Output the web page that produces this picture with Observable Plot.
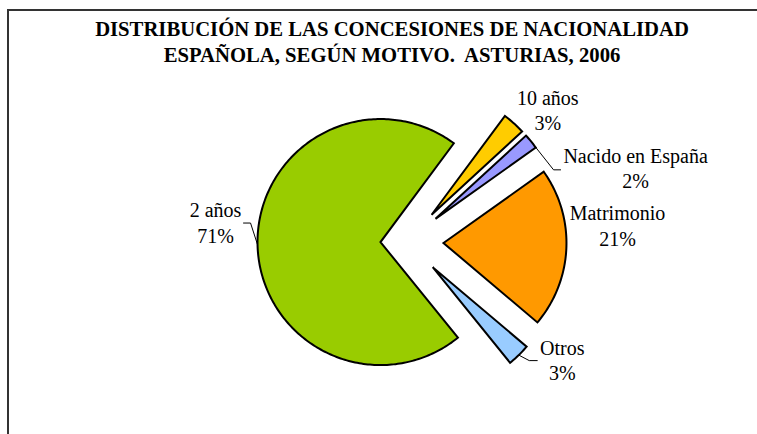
<!DOCTYPE html>
<html><head><meta charset="utf-8">
<script src="https://cdn.jsdelivr.net/npm/d3@7"></script>
<script src="https://cdn.jsdelivr.net/npm/@observablehq/plot@0.6"></script>
<style>
html,body{margin:0;padding:0;background:#fff;overflow:hidden;width:757px;height:434px}
#frame{position:absolute;left:7px;top:9px;width:800px;height:600px;border-left:2px solid #333;border-top:2px solid #333;box-sizing:border-box}
#chart{position:absolute;left:0;top:0;width:757px}
#title{width:784px;height:70px;box-sizing:border-box;padding-top:16px;text-align:center;font:bold 20.7px/26px "Liberation Serif","Times New Roman",serif;white-space:pre;color:#000}
</style></head><body>
<div id="frame"></div>
<div id="chart"><div id="title"></div></div>
<script>
// ---- data ----
const titleLines = ["DISTRIBUCIÓN DE LAS CONCESIONES DE NACIONALIDAD", "ESPAÑOLA, SEGÚN MOTIVO.  ASTURIAS, 2006"];
const categories = ["2 años", "10 años", "Nacido en España", "Matrimonio", "Otros"];
const percents = [71, 3, 2, 21, 3];
const colors = ["#99CC00", "#FFCC00", "#9999FF", "#FF9900", "#99CCFF"];

// ---- layout ----
const W = 757, H = 364, R = 123, CX = 407, CY = 171;
const START = 141; // degrees clockwise from 12 o'clock
const explodePx = c => (c === "2 años" ? 27 : 36);
const labelLayout = {
  "2 años": [-42, -27.6],
  "10 años": [33.9, -18.7],
  "Nacido en España": [104.5, 21.4],
  "Matrimonio": [51.1, -28],
  "Otros": [43.5, -0.5]
};
const leaderLayout = {
  "2 años": [[-7, -21.6], [-14, -21.6]],
  "Nacido en España": [[22.5, 28.4], [29.5, 28.4]],
  "Otros": [[10.5, 5.5], [18.5, 5.5]]
};
const FONT = '"Liberation Serif","Times New Roman",serif';

document.getElementById("title").textContent = titleLines.join("\n");

const rad = a => a * Math.PI / 180;
const total = d3.sum(percents);
let cum = 0;
const slices = categories.map((c, i) => {
  const a0 = START + cum / total * 360;
  cum += percents[i];
  const a1 = START + cum / total * 360;
  const mid = (a0 + a1) / 2;
  const d = explodePx(c) / R;
  const ox = d * Math.sin(rad(mid)), oy = d * Math.cos(rad(mid));
  return {c, p: percents[i], a0, a1, mid, ox, oy,
    mx: ox + Math.sin(rad(mid)), my: oy + Math.cos(rad(mid))};
});

const pts = [];
slices.forEach(s => {
  pts.push({c: s.c, x: s.ox, y: s.oy});
  const n = Math.max(2, Math.ceil(s.a1 - s.a0));
  for (let k = 0; k <= n; k++) {
    const a = rad(s.a0 + (s.a1 - s.a0) * k / n);
    pts.push({c: s.c, x: s.ox + Math.sin(a), y: s.oy + Math.cos(a)});
  }
});

const leaders = [];
slices.forEach(s => {
  const L = leaderLayout[s.c];
  if (!L) return;
  leaders.push({c: s.c, x: s.mx, y: s.my});
  L.forEach(([dx, dy]) => leaders.push({c: s.c, x: s.mx + dx / R, y: s.my - dy / R}));
});

const labels = slices.map(s => {
  const [dx, dy] = labelLayout[s.c];
  return {c: s.c, pct: s.p + "%", x: s.mx + dx / R, y: s.my - dy / R};
});

const chart = Plot.plot({
  width: W, height: H,
  marginTop: 0, marginRight: 0, marginBottom: 0, marginLeft: 0,
  x: {domain: [-CX / R, (W - CX) / R], range: [0, W], axis: null},
  y: {domain: [-(H - CY) / R, CY / R], range: [H, 0], axis: null},
  color: {domain: categories, range: colors},
  style: {background: "transparent", overflow: "visible"},
  marks: [
    Plot.line(leaders, {x: "x", y: "y", z: "c", stroke: "black", strokeWidth: 1, strokeLinejoin: "miter"}),
    Plot.line(pts, {x: "x", y: "y", z: "c", fill: "c", stroke: "black", strokeWidth: 2,
      curve: "linear-closed", strokeLinejoin: "miter", strokeMiterlimit: 4}),
    Plot.text(labels, {x: "x", y: "y", text: "c", fontSize: 20, fontFamily: FONT,
      textAnchor: "middle", lineAnchor: "bottom", fill: "black"}),
    Plot.text(labels, {x: "x", y: "y", text: "pct", dy: 25.5, fontSize: 20, fontFamily: FONT,
      textAnchor: "middle", lineAnchor: "bottom", fill: "black"})
  ]
});
document.getElementById("chart").appendChild(chart);
</script>
</body></html>
